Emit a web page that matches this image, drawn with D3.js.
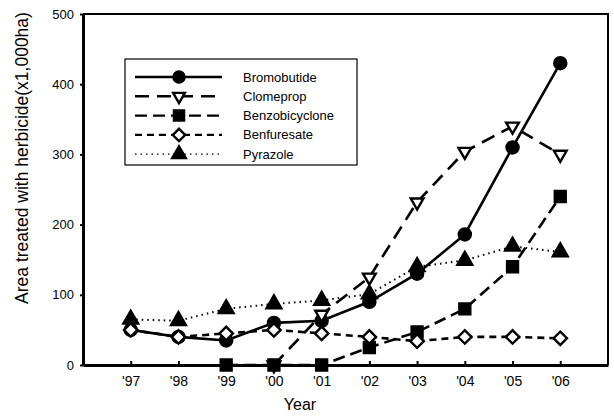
<!DOCTYPE html>
<html>
<head>
<meta charset="utf-8">
<script src="https://cdn.jsdelivr.net/npm/d3@7"></script>
<style>
  body { margin: 0; background: #fff; }
  svg { display: block; font-family: Arial, "Liberation Sans", sans-serif; }
</style>
</head>
<body>
<svg id="chart"></svg>
<script>
const width = 614;
const height = 416;

// data
const years = ["'97", "'98", "'99", "'00", "'01", "'02", "'03", "'04", "'05", "'06"];
const bromobutide = [50, 40, 35, 60, 63, 90, 130, 186, 310, 430];
const clomeprop = [null, null, null, 0, 72, 125, 232, 304, 340, 300];
const benzobicyclone = [null, null, 0, 0, 0, 25, 47, 80, 140, 240];
const benfuresate = [50, 40, 45, 50, 45, 40, 34, 40, 40, 38];
const pyrazole = [65, 63, 80, 87, 92, 101, 140, 149, 169, 161];
const yTicks = [0, 100, 200, 300, 400, 500];

const series = [
  { name: "Bromobutide", values: bromobutide, dash: null, marker: "circle" },
  { name: "Clomeprop", values: clomeprop, dash: "14,8", marker: "triDown" },
  { name: "Benzobicyclone", values: benzobicyclone, dash: "12,6", marker: "square" },
  { name: "Benfuresate", values: benfuresate, dash: "7,5", marker: "diamond" },
  { name: "Pyrazole", values: pyrazole, dash: "1.5,4", marker: "triUp" },
];

const margin = { top: 14, right: 6, bottom: 51, left: 83 };

const svg = d3.select("#chart").attr("width", width).attr("height", height);

const x = d3
  .scalePoint()
  .domain(years)
  .range([margin.left, width - margin.right])
  .padding(1);

const y = d3
  .scaleLinear()
  .domain([0, 500])
  .range([height - margin.bottom, margin.top]);

// frame (top + right)
svg
  .append("path")
  .attr("d", `M${margin.left},${margin.top}H${width - margin.right}V${height - margin.bottom}`)
  .attr("fill", "none")
  .attr("stroke", "#000")
  .attr("stroke-width", 2);

// axes
const xAxis = svg
  .append("g")
  .attr("transform", `translate(0,${height - margin.bottom})`)
  .call(d3.axisBottom(x).tickSizeInner(-4).tickSizeOuter(0).tickPadding(11));

const yAxis = svg
  .append("g")
  .attr("transform", `translate(${margin.left},0)`)
  .call(d3.axisLeft(y).tickValues(yTicks).tickSizeInner(3).tickSizeOuter(0).tickPadding(6));

[xAxis, yAxis].forEach((g) => {
  g.select(".domain").attr("stroke-width", 3);
  g.selectAll(".tick line").attr("stroke-width", 2);
  g.selectAll("text").attr("fill", "#000").attr("font-family", "Arial, 'Liberation Sans', sans-serif");
});
xAxis.selectAll("text").attr("font-size", 14);
yAxis.selectAll("text").attr("font-size", 13);

// axis titles
svg
  .append("text")
  .attr("x", 300)
  .attr("y", 410)
  .attr("text-anchor", "middle")
  .attr("font-size", 16)
  .text("Year");

svg
  .append("text")
  .attr("transform", `translate(28,158) rotate(-90)`)
  .attr("text-anchor", "middle")
  .attr("font-size", 17.5)
  .text("Area treated with herbicide(x1,000ha)");

// marker shapes
const symbols = {
  circle: { type: d3.symbolCircle, size: 115, fill: "#000", rot: 0 },
  triDown: { type: d3.symbolTriangle, size: 70, fill: "#fff", rot: 180 },
  square: { type: d3.symbolSquare, size: 120, fill: "#000", rot: 0 },
  diamond: { type: d3.symbolSquare, size: 90, fill: "#fff", rot: 45 },
  triUp: { type: d3.symbolTriangle, size: 95, fill: "#000", rot: 0 },
};

function drawMarker(g, kind, cx, cy, k = 1) {
  const s = symbols[kind];
  g.append("path")
    .attr("d", d3.symbol().type(s.type).size(s.size * k)())
    .attr("transform", `translate(${cx},${cy}) rotate(${s.rot})`)
    .attr("fill", s.fill)
    .attr("stroke", "#000")
    .attr("stroke-width", 2.4);
}

const line = d3
  .line()
  .defined((d) => d.v != null)
  .x((d) => x(d.year))
  .y((d) => y(d.v));

// draw series
series.forEach((s) => {
  const pts = years.map((yr, i) => ({ year: yr, v: s.values[i] }));
  const g = svg.append("g");
  g.append("path")
    .datum(pts)
    .attr("d", line)
    .attr("fill", "none")
    .attr("stroke", "#000")
    .attr("stroke-width", s.marker === "triUp" ? 2 : 2.6)
    .attr("stroke-dasharray", s.dash);
  pts
    .filter((d) => d.v != null)
    .forEach((d) => drawMarker(g, s.marker, x(d.year), y(d.v)));
});

// legend
const legend = svg.append("g");
legend
  .append("rect")
  .attr("x", 125)
  .attr("y", 59)
  .attr("width", 232)
  .attr("height", 106)
  .attr("fill", "#fff")
  .attr("stroke", "#000")
  .attr("stroke-width", 1.2);

series.forEach((s, i) => {
  const ly = 77 + i * 19.3;
  legend
    .append("line")
    .attr("x1", 135)
    .attr("x2", 222)
    .attr("y1", ly)
    .attr("y2", ly)
    .attr("stroke", "#000")
    .attr("stroke-width", s.marker === "triUp" ? 1.2 : 2.4)
    .attr("stroke-dasharray", s.dash);
  drawMarker(legend, s.marker, 179, ly, 0.85);
  legend
    .append("text")
    .attr("x", 243)
    .attr("y", ly + 4.5)
    .attr("font-size", 13)
    .text(s.name);
});
</script>
</body>
</html>
